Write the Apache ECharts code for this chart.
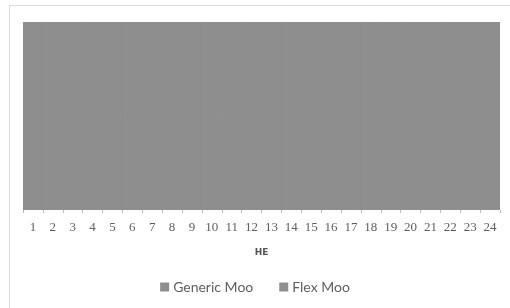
<!DOCTYPE html>
<html>
<head>
<meta charset="utf-8">
<script src="https://cdn.jsdelivr.net/npm/echarts@6/dist/echarts.min.js"></script>
<style>
  html, body { margin: 0; padding: 0; background: #fff; }
  #chart { width: 510px; height: 308px; }
</style>
</head>
<body>
<div id="chart"></div>
<script>
// hours 1..24
const categories = ['1','2','3','4','5','6','7','8','9','10','11','12',
  '13','14','15','16','17','18','19','20','21','22','23','24'];
const genericMoo = [50,50,50,50,50,50,50,50,50,50,50,50,50,50,50,50,50,50,50,50,50,50,50,50];
const flexMoo    = [50,50,50,50,50,50,50,50,50,50,50,50,50,50,50,50,50,50,50,50,50,50,50,50];

const myChart = echarts.init(document.getElementById('chart'));

const barStyle = { color: '#8e8e8e', borderColor: '#8e8e8e', borderWidth: 1 };

const option = {
  backgroundColor: '#fff',
  animation: false,
  graphic: [{
    type: 'rect',
    shape: { x: 9.5, y: 5.5, width: 520, height: 320 },
    style: { fill: 'none', stroke: '#b5b5b5', lineWidth: 1, lineDash: [1, 1] },
    silent: true
  }],
  legend: {
    data: ['Generic Moo', 'Flex Moo'],
    bottom: 9,
    left: 'center',
    itemWidth: 7,
    itemHeight: 7,
    itemGap: 26,
    icon: 'rect',
    textStyle: { color: '#5e5e5e', fontFamily: 'Lato', fontSize: 14 }
  },
  grid: {
    left: 23, right: 10, top: 22, bottom: 98,
    show: true, backgroundColor: '#8e8e8e', borderWidth: 0
  },
  xAxis: {
    type: 'category',
    data: categories,
    name: 'HE',
    nameLocation: 'middle',
    nameGap: 38,
    nameTextStyle: { color: '#555', fontSize: 9, fontWeight: 'bold', fontFamily: 'DejaVu Sans' },
    axisLine: { show: false },
    splitLine: { show: false },
    axisTick: { show: true, length: 3, lineStyle: { color: '#bbb' } },
    axisLabel: { color: '#5e5e5e', fontSize: 13, fontFamily: 'Liberation Serif', margin: 11, interval: 0 }
  },
  yAxis: {
    type: 'value',
    min: 0,
    max: 100,
    show: false,
    splitLine: { show: false }
  },
  series: [
    {
      name: 'Generic Moo',
      type: 'bar',
      stack: 'moo',
      barCategoryGap: '0%',
      itemStyle: barStyle,
      data: genericMoo
    },
    {
      name: 'Flex Moo',
      type: 'bar',
      stack: 'moo',
      barCategoryGap: '0%',
      itemStyle: barStyle,
      data: flexMoo
    }
  ]
};

myChart.setOption(option);
</script>
</body>
</html>
